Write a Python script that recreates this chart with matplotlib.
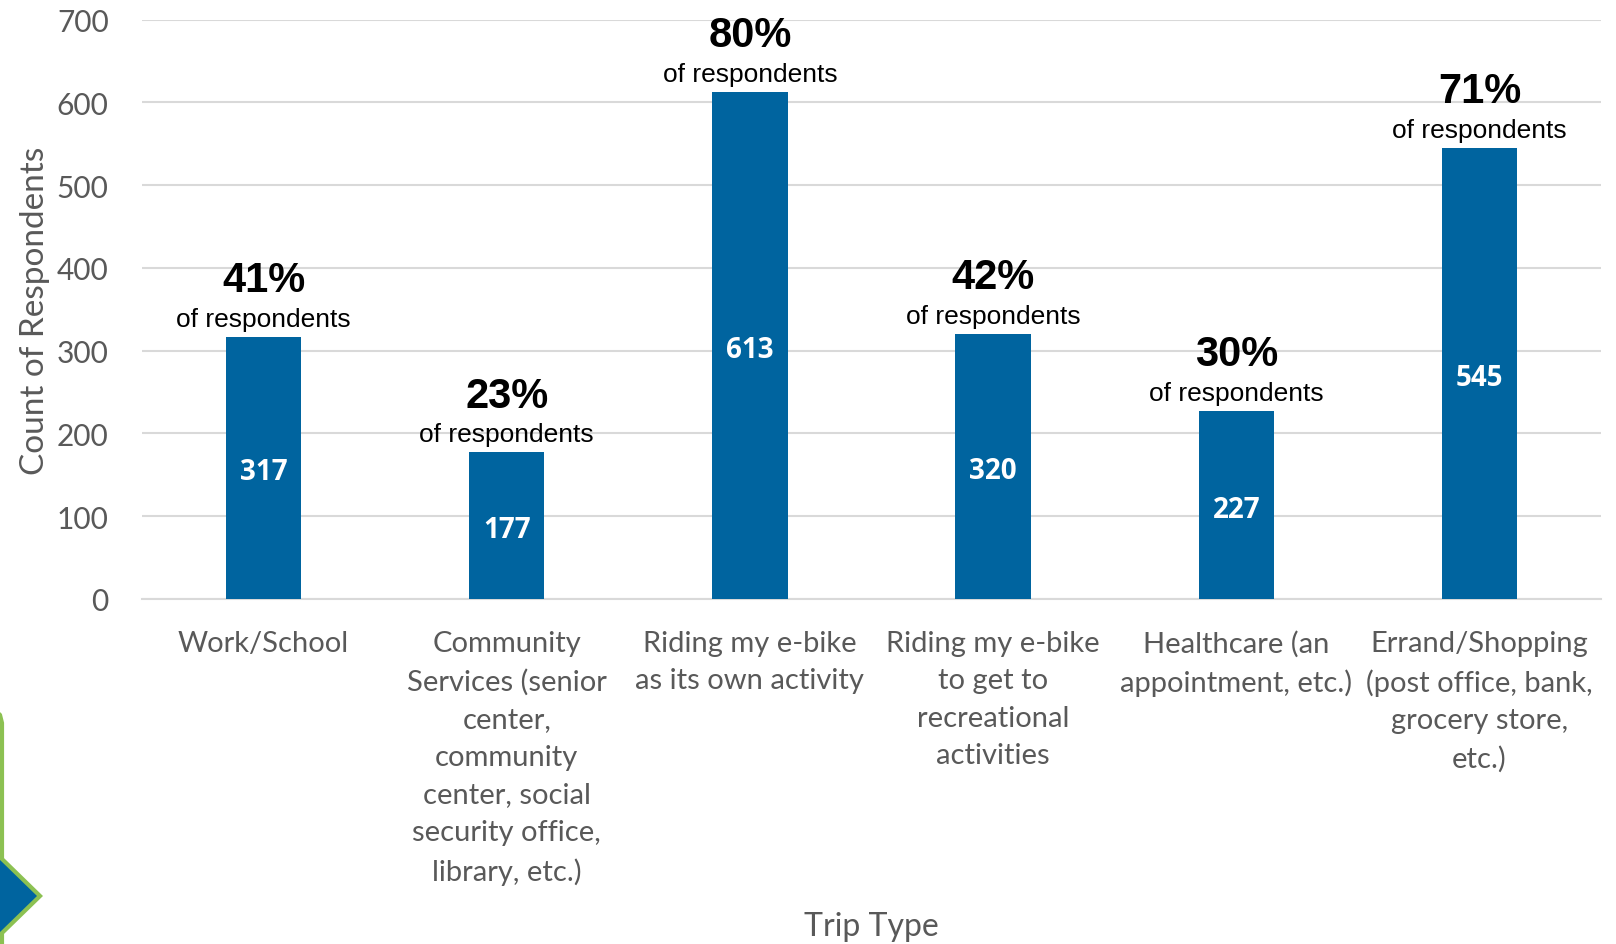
import matplotlib
matplotlib.use("Agg")
import matplotlib.pyplot as plt
from matplotlib.lines import Line2D
from matplotlib.patches import Polygon

# survey counts by trip type
trip_types = ["Work/School",
              "Community\nServices (senior\ncenter,\ncommunity\ncenter, social\nsecurity office,\nlibrary, etc.)",
              "Riding my e-bike\nas its own activity",
              "Riding my e-bike\nto get to\nrecreational\nactivities",
              "Healthcare (an\nappointment, etc.)",
              "Errand/Shopping\n(post office, bank,\ngrocery store,\netc.)"]
counts = [317, 177, 613, 320, 227, 545]
pct_respondents = [41, 23, 80, 42, 30, 71]
y_ticks = [0, 100, 200, 300, 400, 500, 600, 700]

bar_color = "#00649f"
grid_color = "#d9d9d9"
text_gray = "#595959"
label_font = "Lato"

W, H = 1616, 945
fig = plt.figure(figsize=(W / 100, H / 100), dpi=100)
ax = fig.add_axes([142 / W, 1 - 600 / H, (1601 - 142) / W, (600 - 20.6) / H])

x = list(range(len(counts)))
bars = ax.bar(x, counts, width=0.31, color=bar_color, zorder=3)

ax.set_xlim(-0.5, len(counts) - 0.5)
ax.set_ylim(0, 700)
ax.set_yticks(y_ticks)
ax.set_yticklabels([str(t) for t in y_ticks], fontsize=21.5, color=text_gray, family=label_font)
ax.set_xticks(x)
ax.set_xticklabels(trip_types, fontsize=21, color=text_gray, family=label_font, linespacing=1.55)
ax.tick_params(axis="both", length=0)
ax.tick_params(axis="y", pad=24)
ax.tick_params(axis="x", pad=22)
ax.grid(axis="y", color=grid_color, linewidth=1.5, zorder=0)
for side in ["top", "right", "left"]:
    ax.spines[side].set_visible(False)
ax.spines["bottom"].set_color(grid_color)
ax.spines["bottom"].set_linewidth(1.5)

for i, (c, p) in enumerate(zip(counts, pct_respondents)):
    # count in the middle of the bar
    ax.annotate(str(c), xy=(i, c / 2), xytext=(0, -3), textcoords="offset points",
                ha="center", va="center", color="white",
                fontsize=20, fontweight="bold", family="Open Sans", zorder=4)
    # share of respondents stacked above the bar
    ax.annotate("of respondents", xy=(i, c), xytext=(0, 13), textcoords="offset points",
                ha="center", va="center", fontsize=19, family="Liberation Sans", color="black")
    ax.annotate("{0}%".format(p), xy=(i, c), xytext=(0, 41), textcoords="offset points",
                ha="center", va="center", fontsize=30, fontweight="bold",
                family="Liberation Sans", color="black")

fig.text(35 / W, 1 - 311 / H, "Count of Respondents", rotation=90, ha="center", va="center",
         fontsize=24, color=text_gray, family=label_font)
fig.text(871 / W, 1 - 927 / H, "Trip Type", ha="center", va="center",
         fontsize=23, color=text_gray, family=label_font)

# chevron shape peeking in at the bottom-left corner
def px(xp, yp):
    return (xp / W, 1 - yp / H)

fig.patches.append(Polygon([px(0, 860), px(2, 860), px(39, 897), px(2, 933), px(0, 933)],
                           closed=True, facecolor=bar_color, edgecolor="none",
                           transform=fig.transFigure))
outline = [px(-4, 712), px(0, 716), px(2, 724), px(2, 860), px(40, 897), px(2, 934), px(2, 945)]
fig.lines.append(Line2D([p[0] for p in outline], [p[1] for p in outline], color="#8cc152",
                        linewidth=3, transform=fig.transFigure, solid_joinstyle="miter"))

fig.savefig("out.png", dpi=100)
